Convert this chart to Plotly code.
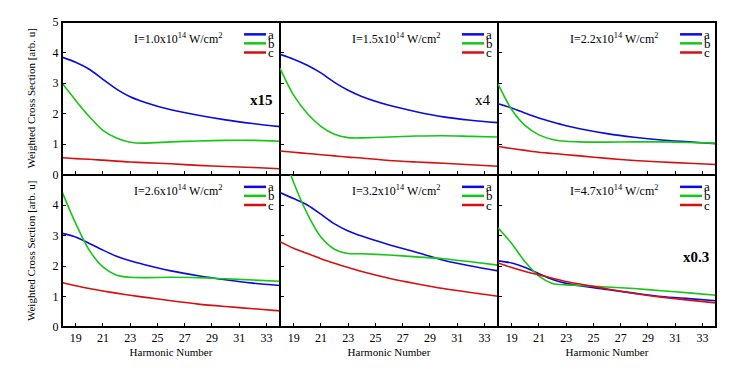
import plotly.graph_objects as go
from plotly.subplots import make_subplots

# harmonic orders where the curves were read
harm = [18, 19, 20, 21, 22, 23, 24, 26, 28, 30, 32, 34]

# I = 1.0e14 W/cm2 (x15)
a1 = [3.85, 3.68, 3.45, 3.12, 2.80, 2.55, 2.38, 2.12, 1.94, 1.79, 1.67, 1.57]
b1 = [3.00, 2.43, 1.90, 1.45, 1.20, 1.06, 1.03, 1.07, 1.10, 1.12, 1.12, 1.09]
c1 = [0.55, 0.52, 0.50, 0.47, 0.44, 0.41, 0.39, 0.35, 0.30, 0.26, 0.23, 0.19]
# I = 1.5e14 (x4)
a2 = [3.94, 3.78, 3.58, 3.33, 3.02, 2.76, 2.56, 2.27, 2.06, 1.89, 1.78, 1.70]
b2 = [3.48, 2.60, 2.00, 1.58, 1.32, 1.21, 1.20, 1.23, 1.26, 1.27, 1.25, 1.23]
c2 = [0.77, 0.73, 0.69, 0.65, 0.61, 0.57, 0.54, 0.46, 0.41, 0.37, 0.32, 0.27]
# I = 2.2e14
a3 = [2.32, 2.18, 2.01, 1.85, 1.72, 1.60, 1.50, 1.34, 1.22, 1.13, 1.07, 1.01]
b3 = [2.97, 2.13, 1.60, 1.30, 1.15, 1.09, 1.07, 1.06, 1.07, 1.07, 1.05, 1.03]
c3 = [0.92, 0.85, 0.79, 0.73, 0.69, 0.65, 0.61, 0.53, 0.46, 0.41, 0.37, 0.33]
# I = 2.6e14
a4 = [3.07, 2.95, 2.74, 2.52, 2.32, 2.17, 2.05, 1.84, 1.68, 1.55, 1.44, 1.36]
b4 = [4.44, 3.40, 2.52, 1.97, 1.70, 1.63, 1.62, 1.63, 1.62, 1.58, 1.54, 1.50]
c4 = [1.46, 1.35, 1.26, 1.18, 1.11, 1.04, 0.98, 0.86, 0.75, 0.67, 0.60, 0.53]
# I = 3.2e14
a5 = [4.41, 4.21, 4.00, 3.70, 3.38, 3.15, 2.98, 2.70, 2.45, 2.19, 2.00, 1.84]
b5 = [6.00, 4.74, 3.72, 2.95, 2.55, 2.41, 2.40, 2.36, 2.30, 2.24, 2.14, 2.03]
c5 = [2.80, 2.58, 2.41, 2.24, 2.09, 1.95, 1.82, 1.60, 1.42, 1.26, 1.13, 1.01]
# I = 4.7e14 (x0.3)
a6 = [2.17, 2.10, 1.95, 1.75, 1.56, 1.43, 1.35, 1.23, 1.11, 1.00, 0.93, 0.86]
b6 = [3.25, 2.74, 2.13, 1.67, 1.43, 1.38, 1.36, 1.31, 1.26, 1.19, 1.12, 1.04]
c6 = [2.10, 1.95, 1.82, 1.71, 1.60, 1.49, 1.41, 1.25, 1.10, 0.98, 0.88, 0.79]

intensities = ["1.0", "1.5", "2.2", "2.6", "3.2", "4.7"]
scales = ["<b>x15</b>", "x4", "", "", "", "<b>x0.3</b>"]
series = [(a1, b1, c1), (a2, b2, c2), (a3, b3, c3),
          (a4, b4, c4), (a5, b5, c5), (a6, b6, c6)]
names = ["a", "b", "c"]
colors = ["rgb(10,10,225)", "rgb(20,200,20)", "rgb(215,15,15)"]
xticks = [19, 21, 23, 25, 27, 29, 31, 33]

FONT = "Liberation Serif"

fig = make_subplots(rows=2, cols=3, horizontal_spacing=0, vertical_spacing=0)

for i, (curves, inten, sc) in enumerate(zip(series, intensities, scales)):
    row, col = i // 3 + 1, i % 3 + 1
    n = "" if i == 0 else str(i + 1)
    for vals, name, color in zip(curves, names, colors):
        fig.add_trace(go.Scatter(
            x=harm, y=vals, mode="lines", name=name, showlegend=False,
            line=dict(color=color, width=1.6, shape="spline", smoothing=0.8),
        ), row=row, col=col)

    # intensity label
    fig.add_annotation(
        xref=f"x{n} domain", yref=f"y{n} domain", x=0.53, y=0.895,
        xanchor="center", yanchor="middle",
        text=f"I={inten}x10<sup>14</sup> W/cm<sup>2</sup>", showarrow=False,
        font=dict(family=FONT, size=12, color="black"),
    )
    if sc:
        fig.add_annotation(
            xref=f"x{n} domain", yref=f"y{n} domain", x=0.975,
            y=0.49 if row == 1 else 0.46, xanchor="right", yanchor="middle",
            text=sc, showarrow=False,
            font=dict(family=FONT, size=15, color="black"),
        )

    # gnuplot-style key
    for k, (name, color) in enumerate(zip(names, colors)):
        yk = [0.919, 0.86, 0.80][k]
        fig.add_shape(type="line", xref=f"x{n} domain", yref=f"y{n} domain",
                      x0=0.835, x1=0.936, y0=yk, y1=yk,
                      line=dict(color=color, width=2.5))
        fig.add_annotation(xref=f"x{n} domain", yref=f"y{n} domain",
                           x=0.942, y=yk, xanchor="left", yanchor="middle",
                           text=name, showarrow=False, borderpad=0,
                           font=dict(family=FONT, size=13, color="black"))

    fig.update_xaxes(
        range=[18, 34], tickvals=xticks, ticks="inside", ticklen=4,
        tickcolor="black", showticklabels=(row == 2),
        tickfont=dict(family=FONT, size=12, color="black"),
        showline=True, linewidth=1, linecolor="black", mirror=True,
        showgrid=False, zeroline=False,
        title=dict(text="Harmonic Number" if row == 2 else "",
                   standoff=3, font=dict(family=FONT, size=11, color="black")),
        row=row, col=col,
    )
    fig.update_yaxes(
        range=[0, 5], tickvals=[0, 1, 2, 3, 4, 5] if row == 1 else [0, 1, 2, 3, 4],
        ticks="inside", ticklen=4, tickcolor="black",
        showticklabels=(col == 1),
        tickfont=dict(family=FONT, size=12, color="black"),
        showline=True, linewidth=1, linecolor="black", mirror=True,
        showgrid=False, zeroline=False,
        title=dict(text="Weighted Cross Section [arb. u]" if col == 1 else "",
                   standoff=14, font=dict(family=FONT, size=11, color="black")),
        row=row, col=col,
    )

# heavier outer frame around the whole grid
fig.add_shape(type="rect", xref="paper", yref="paper", x0=0, x1=1, y0=0, y1=1,
              line=dict(color="black", width=2), layer="above")

fig.update_layout(
    width=747, height=371,
    margin=dict(l=62, r=31, t=22, b=44),
    paper_bgcolor="white", plot_bgcolor="white",
    font=dict(family=FONT, size=12, color="black"),
    showlegend=False,
)

# drop the default page margin so the figure sits at the window's corner
fig.write_html("out.html", config={"displayModeBar": False},
               post_script="document.body.style.margin='0px';")
